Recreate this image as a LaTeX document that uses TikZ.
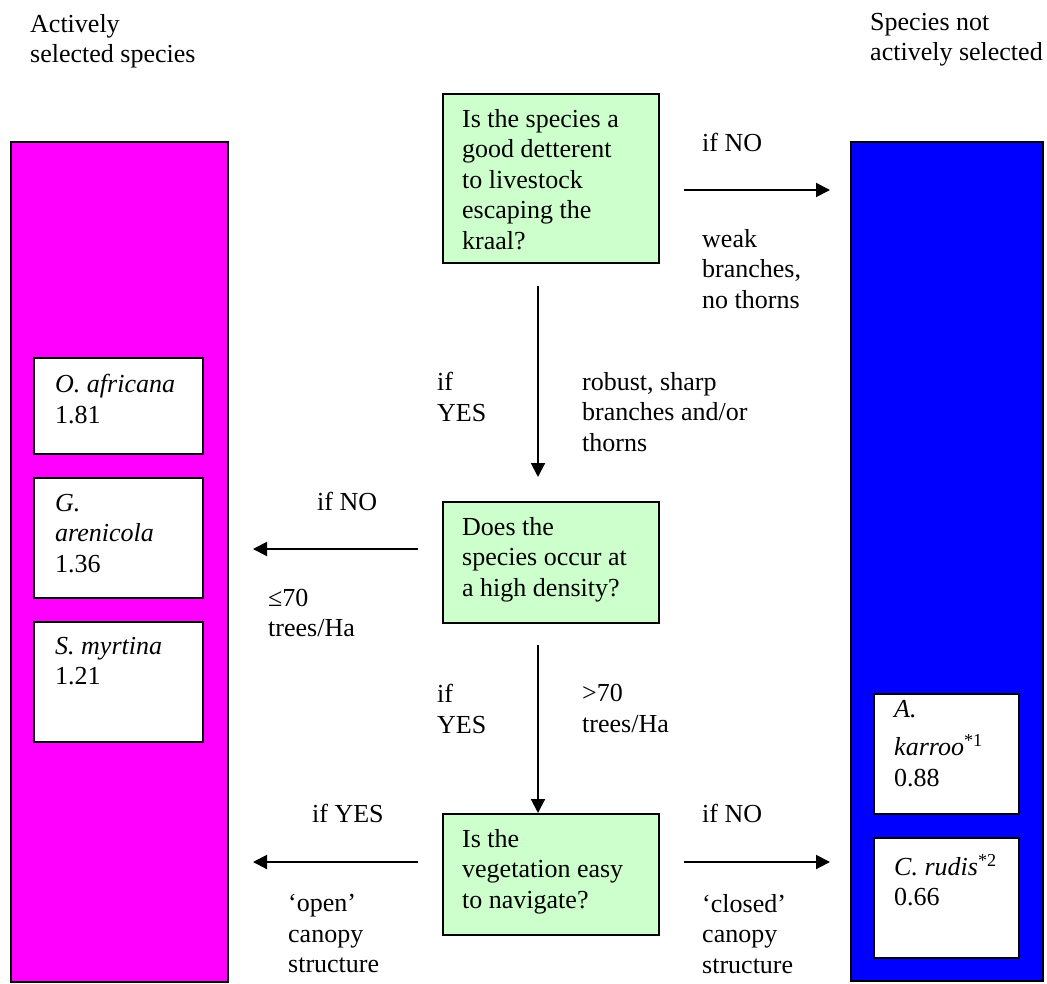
\documentclass[tikz,border=0pt]{standalone}
\usepackage{fontspec}
\setmainfont{Liberation Serif}
\usetikzlibrary{arrows.meta}

\definecolor{qgreen}{RGB}{204,255,204}
\definecolor{selpink}{RGB}{255,0,255}
\definecolor{notblue}{RGB}{0,0,255}

\tikzset{
	txt/.style={anchor=north west, inner sep=0pt, align=left, font=\fontsize{26}{30.5}\selectfont},
	bar/.style={draw=black, line width=2pt, anchor=north west, inner sep=0pt},
	spbox/.style={draw=black, line width=2pt, fill=white, anchor=north west, inner sep=0pt, minimum height=120pt},
	qbox/.style={draw=black, line width=2pt, fill=qgreen, anchor=north west, inner sep=0pt, minimum width=216pt},
	arr/.style={line width=2pt, -{Triangle[length=14pt,width=14pt]}}
}

\begin{document}
\begin{tikzpicture}[x=1pt,y=-1pt]
	\useasboundingbox (0,0) rectangle (1047,983);

	% titles
	\node[txt] (seltitle) at (30,14) {Actively\\selected species};
	\node[txt] (nottitle) at (870,13) {Species not\\actively selected};

	% the two bars
	\node[bar, fill=selpink, minimum width=217pt, minimum height=840pt] (sel) at (10,141) {};
	\node[bar, fill=notblue, minimum width=192pt, minimum height=839pt] (notsel) at (850,141) {};

	% species boxes
	\node[spbox, minimum width=169pt, minimum height=96pt] (oafbox) at (33,357) {};
	\node[spbox, minimum width=169pt] (garbox) at (33,477) {};
	\node[spbox, minimum width=169pt] (smybox) at (33,621) {};
	\node[spbox, minimum width=145pt] (akabox) at (873,693) {};
	\node[spbox, minimum width=145pt] (crubox) at (873,837) {};

	\node[txt] (oaf) at ([shift={(22,17)}]oafbox.north west) {\textit{O. africana}\\1.81};
	\node[txt] (gar) at ([shift={(22,17)}]garbox.north west) {\textit{G.}\\\textit{arenicola}\\1.36};
	\node[txt] (smy) at ([shift={(22,16)}]smybox.north west) {\textit{S. myrtina}\\1.21};
	\node[txt] (aka) at ([shift={(21,7)}]akabox.north west) {\textit{A.}\\[8pt]\textit{karroo}\textsuperscript{*1}\\0.88};
	\node[txt] (cru) at ([shift={(21,17)}]crubox.north west) {\textit{C. rudis}\textsuperscript{*2}\\0.66};

	% questions
	\node[qbox, minimum height=169pt] (q1) at (442,93) {};
	\node[qbox, minimum height=121pt] (q2) at (442,501) {};
	\node[qbox, minimum height=121pt] (q3) at (442,813) {};

	\node[txt] (q1txt) at ([shift={(20,16)}]q1.north west) {Is the species a\\good detterent\\to livestock\\escaping the\\kraal?};
	\node[txt] (q2txt) at ([shift={(20,16)}]q2.north west) {Does the\\species occur at\\a high density?};
	\node[txt] (q3txt) at ([shift={(20,16)}]q3.north west) {Is the\\vegetation easy\\to navigate?};

	% arrows
	\coordinate (ya) at (0,190);
	\coordinate (yb) at (0,549);
	\coordinate (yc) at (0,862);
	\coordinate (xv) at (538,0);

	\draw[arr, shorten <=24pt, shorten >=20pt] (q1.east |- ya) -- (notsel.west |- ya);
	\draw[arr, shorten <=22pt, shorten >=24pt] (q1.south -| xv) -- (q2.north -| xv);
	\draw[arr, shorten <=24pt, shorten >=24pt] (q2.west |- yb) -- (sel.east |- yb);
	\draw[arr, shorten <=21pt] (q2.south -| xv) -- (q3.north -| xv);
	\draw[arr, shorten <=24pt, shorten >=24pt] (q3.west |- yc) -- (sel.east |- yc);
	\draw[arr, shorten <=24pt, shorten >=20pt] (q3.east |- yc) -- (notsel.west |- yc);

	% arrow labels
	\node[txt] (ifno1) at (702,133) {if NO};
	\node[txt] (weak) at (702,229) {weak\\branches,\\no thorns};
	\node[txt] (ifyes1) at (437,372) {if\\YES};
	\node[txt] (robust) at (582,372) {robust, sharp\\branches and/or\\thorns};
	\node[txt] (ifno2) at (317,492) {if NO};
	\node[txt] (le70) at (268,589) {≤70\\trees/Ha};
	\node[txt] (ifyes2) at (437,684) {if\\YES};
	\node[txt] (gt70) at (582,684) {>70\\trees/Ha};
	\node[txt] (ifyes3) at (312,804) {if YES};
	\node[txt] (open) at (288,894) {`open'\\canopy\\structure};
	\node[txt] (ifno3) at (702,804) {if NO};
	\node[txt] (closed) at (702,894) {`closed'\\canopy\\structure};
\end{tikzpicture}
\end{document}
